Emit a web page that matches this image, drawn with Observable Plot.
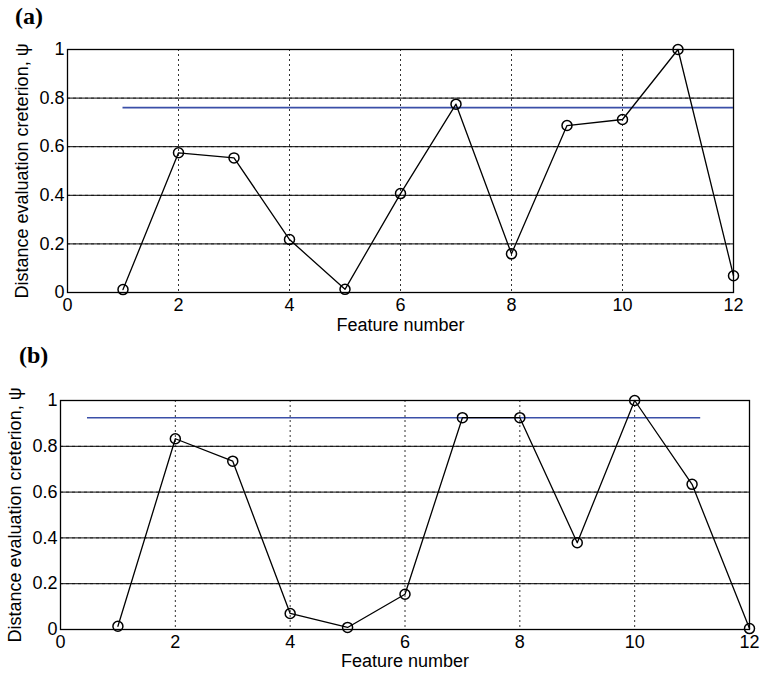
<!DOCTYPE html>
<html>
<head>
<meta charset="utf-8">
<script src="https://cdn.jsdelivr.net/npm/d3@7"></script>
<script src="https://cdn.jsdelivr.net/npm/@observablehq/plot@0.6"></script>
<style>
  html, body { margin: 0; padding: 0; background: #fff; }
  #wrap { position: relative; width: 760px; height: 676px; overflow: hidden; }
  .panel { position: absolute; left: 0; z-index: 1; }
  .tag { position: absolute; z-index: 2; font-family: "Liberation Serif", "Times New Roman", serif; font-weight: bold; font-size: 24px; color: #000; }
</style>
</head>
<body>
<div id="wrap">
  <div id="pa" class="panel" style="top:0px;"></div>
  <div id="pb" class="panel" style="top:340px;"></div>
  <div class="tag" style="left:15px; top:3px;">(a)</div>
  <div class="tag" style="left:19px; top:342px;">(b)</div>
</div>
<script>
const features = [1,2,3,4,5,6,7,8,9,10,11,12];
const psiA = [0.012, 0.575, 0.554, 0.218, 0.013, 0.407, 0.775, 0.159, 0.687, 0.712, 1.0, 0.069];
const psiB = [0.014, 0.833, 0.735, 0.070, 0.009, 0.154, 0.925, 0.925, 0.379, 1.0, 0.634, 0.004];
const thresholdA = {x1: 1, x2: 12, y: 0.761};
const thresholdB = {x1: 0.47, x2: 11.15, y: 0.925};
const xTicks = [0,2,4,6,8,10,12];
const yTicks = [0,0.2,0.4,0.6,0.8,1];
const yTickLabels = ["0","0.2","0.4","0.6","0.8","1"];
const xLabel = "Feature number";
const yLabel = "Distance evaluation creterion, \u03c8";

function panel(values, thr, opts) {
  const data = features.map((f, i) => ({f, v: values[i]}));
  return Plot.plot({
    width: 760,
    height: opts.height,
    marginLeft: opts.ml, marginRight: opts.mr, marginTop: opts.mt, marginBottom: opts.mb,
    style: {fontFamily: "'Liberation Sans', Arial, sans-serif", fontSize: "18px", color: "#000", background: "transparent", overflow: "visible"},
    x: {domain: [0, 12]},
    y: {domain: [0, 1]},
    marks: [
      Plot.ruleX(xTicks.slice(1, -1), {x: d => d, stroke: "#333", strokeDasharray: "2,3", strokeWidth: 1}),
      Plot.ruleY(yTicks.slice(1, -1), {y: d => d, stroke: "#555", strokeDasharray: "3,3", strokeWidth: 1}),
      Plot.tickY(yTicks, {y: d => d, x1: 12 - 0.08, x2: 12, stroke: "#000"}),
      Plot.frame({stroke: "#000", strokeWidth: 1.3}),
      Plot.axisX(xTicks, {tickSize: 0, tickPadding: 6, label: xLabel, labelAnchor: "center", labelArrow: "none", labelOffset: opts.xlo, fontSize: 18}),
      Plot.axisY(yTicks, {tickSize: 0, tickPadding: 3, tickFormat: (d, i) => yTickLabels[i], label: yLabel, labelAnchor: "center", labelArrow: "none", labelOffset: opts.ylo, fontSize: 18}),
      Plot.ruleY([thr], {y: "y", x1: "x1", x2: "x2", stroke: "#3a4fa8", strokeWidth: 1.6}),
      Plot.line(data, {x: "f", y: "v", stroke: "#000", strokeWidth: 1.3}),
      Plot.dot(data, {x: "f", y: "v", r: 5, stroke: "#000", strokeWidth: 1.5, fill: "none"})
    ]
  });
}

document.getElementById("pa").append(panel(psiA, thresholdA, {height: 340, ml: 67, mr: 27, mt: 49, mb: 48, xlo: 38, ylo: 52}));
document.getElementById("pb").append(panel(psiB, thresholdB, {height: 336, ml: 60, mr: 11, mt: 60, mb: 47, xlo: 37, ylo: 52}));
</script>
</body>
</html>
